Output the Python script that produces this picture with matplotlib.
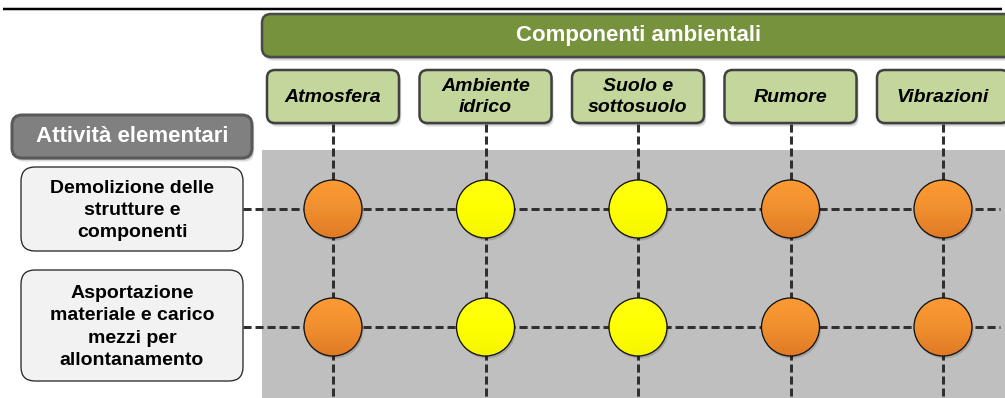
import matplotlib
matplotlib.use("Agg")
import matplotlib.pyplot as plt
from matplotlib.patches import FancyBboxPatch, Circle, Rectangle
from matplotlib.colors import LinearSegmentedColormap
import numpy as np

plt.rcParams['font.family'] = ['Liberation Sans', 'DejaVu Sans']

# ---- data ----
header = "Componenti ambientali"
row_header = "Attività elementari"
components = ["Atmosfera", "Ambiente\nidrico", "Suolo e\nsottosuolo", "Rumore", "Vibrazioni"]
activities = ["Demolizione delle\nstrutture e\ncomponenti",
              "Asportazione\nmateriale e carico\nmezzi per\nallontanamento"]
# impact level: 2 = orange, 1 = yellow
impact_row1 = [2, 1, 1, 2, 2]
impact_row2 = [2, 1, 1, 2, 2]
impacts = [impact_row1, impact_row2]

W, H = 1005, 398
fig = plt.figure(figsize=(W / 100, H / 100), dpi=100)
ax = fig.add_axes([0, 0, 1, 1])
ax.set_xlim(0, W)
ax.set_ylim(H, 0)
ax.axis('off')

PX = 72 / 100  # points per pixel

def shadow_box(x, y, w, h, r, fc, ec, lw, z=3, shadow=True):
    if shadow:
        for k, a in [(4, 0.07), (3, 0.09), (2, 0.13)]:
            ax.add_patch(FancyBboxPatch((x + k * 0.6, y + k), w, h,
                                        boxstyle=f"round,pad=0,rounding_size={r}",
                                        fc='black', ec='none', alpha=a, zorder=z - 1))
    ax.add_patch(FancyBboxPatch((x, y), w, h, boxstyle=f"round,pad=0,rounding_size={r}",
                                fc=fc, ec=ec, lw=lw * PX, zorder=z))

# top rule
ax.plot([3, 1002], [8.5, 8.5], color='black', lw=2.5 * PX, solid_capstyle='butt', zorder=5)

# gray field
ax.add_patch(Rectangle((262, 150), W - 262, H - 150, fc='#bfbfbf', ec='none', zorder=0))

# header green bar
shadow_box(262, 14, 760, 43, 9, '#76923c', '#4a4a4a', 2.5)
ax.text(639, 36, header, color='white', fontsize=16, fontweight='bold',
        ha='center', va='center', zorder=6)

# column geometry
col_x0, col_dx = 333, 152.5
col_x = [col_x0 + i * col_dx for i in range(len(components))]
row_y0, row_dy = 209, 118
row_y = [row_y0 + j * row_dy for j in range(len(activities))]
box_w = 132

dash = dict(color='#303030', lw=3 * PX, linestyle=(0, (2.7, 1.3)), zorder=2)

# component boxes + vertical dashed lines
for i, (cx, name) in enumerate(zip(col_x, components)):
    shadow_box(cx - box_w / 2, 70, box_w, 53, 8, '#c3d69b', '#404040', 2.5)
    ax.text(cx, 97, name, fontsize=14, fontweight='bold', style='italic',
            ha='center', va='center', linespacing=1.3, zorder=6)
    ax.plot([cx, cx], [124, H], **dash)

# row header
shadow_box(12, 115, 240, 43, 10, '#808080', '#595959', 3)
ax.text(132, 137, row_header, color='white', fontsize=16, fontweight='bold',
        ha='center', va='center', zorder=6)

# activity boxes + horizontal dashed lines
act_boxes = [(167, 84), (270, 111)]
for j, (ry, name) in enumerate(zip(row_y, activities)):
    by, bh = act_boxes[j]
    shadow_box(21, by, 222, bh, 14, '#f2f2f2', '#262626', 1.3, shadow=False)
    ax.text(132, by + bh / 2 + 1.5, name, fontsize=14, fontweight='bold',
            ha='center', va='center', linespacing=1.42, zorder=6)
    ax.plot([243, 1000], [ry, ry], **dash)

# circles with gradient
R = 29
grad = np.linspace(0, 1, 100)[:, None] * np.ones((1, 100))
cmap_or = LinearSegmentedColormap.from_list('or', ['#fc9b34', '#f08f2e', '#e07a26'])
cmap_ye = LinearSegmentedColormap.from_list('ye', ['#ffff10', '#ffff00', '#f5f500'])
for j, ry in enumerate(row_y):
    for i, cx in enumerate(col_x):
        lvl = impacts[j][i]
        cmap = cmap_or if lvl == 2 else cmap_ye
        ax.add_patch(Circle((cx + 1.5, ry + 2.5), R, fc='black', ec='none', alpha=0.15, zorder=3))
        clip = Circle((cx, ry), R, transform=ax.transData)
        im = ax.imshow(grad, cmap=cmap, extent=(cx - R, cx + R, ry + R, ry - R),
                       zorder=4, aspect='auto', interpolation='bilinear')
        im.set_clip_path(clip)
        ax.add_patch(Circle((cx, ry), R, fc='none', ec='#111111', lw=1.3 * PX, zorder=5))

ax.set_xlim(0, W)
ax.set_ylim(H, 0)
fig.savefig('out.png', dpi=100)
